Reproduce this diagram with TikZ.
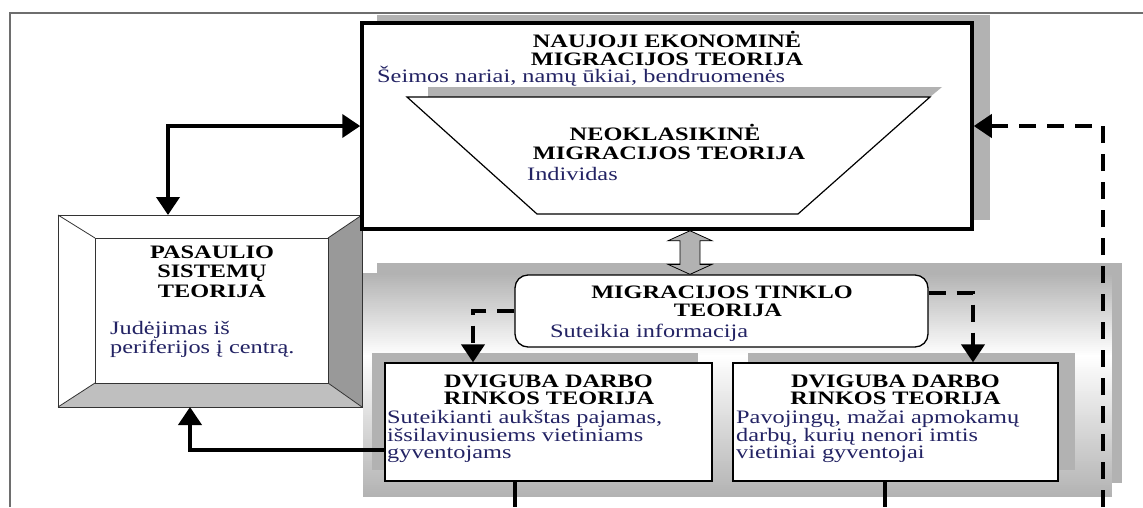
\documentclass[tikz,border=0pt]{standalone}
\usepackage{fontspec}
\setmainfont{Liberation Serif}[FakeStretch=1.28]
\usetikzlibrary{arrows.meta,calc}
\definecolor{navy}{RGB}{35,35,100}
\definecolor{hatch}{RGB}{178,178,178}
\definecolor{framegray}{RGB}{110,110,110}
\begin{document}
\begin{tikzpicture}[x=1pt,y=-1pt,
  ttl/.style={font=\bfseries\fontsize{19}{19}\selectfont, text=black, inner sep=0pt, anchor=base},
  dsc/.style={font=\fontsize{19}{19}\selectfont, text=navy, inner sep=0pt, anchor=base west},
  shadowband/.style={fill=hatch, draw=none},
  boxthin/.style={draw=black, line width=1.3pt, fill=white, inner sep=0pt},
  bevel/.style={draw=black!80, line width=0.8pt},
  conn/.style={line width=4pt, -{Triangle[length=18pt,width=23pt]}},
  dconn/.style={conn, dash pattern=on 17pt off 11pt},
  blockarrow/.style={fill=black!30, draw=black, line width=0.8pt}
]
\useasboundingbox (0,0) rectangle (1143,507);
% outer frame
\draw[framegray, line width=1.5pt] (10,507) -- (10,13) -- (1143,13);

% ---------- PASAULIO SISTEMU TEORIJA (bevelled box)
\node[minimum width=304pt, minimum height=192pt, inner sep=0pt, outer sep=0pt] (pas) at (210,311) {};
\node[minimum width=233pt, minimum height=145pt, inner sep=0pt, outer sep=0pt, fill=white] (pasin) at (211.5,310.5) {};
\fill[white] (pas.north west) -- (pas.north east) -- (pasin.north east) -- (pasin.north west) -- cycle;
\fill[white] (pas.north west) -- (pasin.north west) -- (pasin.south west) -- (pas.south west) -- cycle;
\fill[black!40] (pas.north east) -- (pas.south east) -- (pasin.south east) -- (pasin.north east) -- cycle;
\fill[black!25] (pas.south west) -- (pas.south east) -- (pasin.south east) -- (pasin.south west) -- cycle;
\draw[bevel] (pas.north west) rectangle (pas.south east);
\draw[bevel] (pasin.north west) rectangle (pasin.south east);
\draw[bevel] (pas.north west) -- (pasin.north west);
\draw[bevel] (pas.north east) -- (pasin.north east);
\draw[bevel] (pas.south west) -- (pasin.south west);
\draw[bevel] (pas.south east) -- (pasin.south east);
\node[ttl] (p1) at (212,258) {PASAULIO};
\node[ttl] (p2) at (212,277.5) {SISTEMŲ};
\node[ttl] (p3) at (212,297) {TEORIJA};
\node[dsc] (p4) at (110,334) {Judėjimas iš};
\node[dsc] (p5) at (110,353) {periferijos į centrą.};

% ---------- NAUJOJI EKONOMINE MIGRACIJOS TEORIJA
\fill[shadowband] (377,15) rectangle (990,220);
\node[draw=black, line width=3.5pt, fill=white, minimum width=610pt, minimum height=206pt, inner sep=0pt] (neo) at (667,126) {};
\node[ttl] (n1) at (667,47) {NAUJOJI EKONOMINĖ};
\node[ttl] (n2) at (667,65) {MIGRACIJOS TEORIJA};
\node[dsc] (n3) at (377,82) {Šeimos nariai, namų ūkiai, bendruomenės};
% inner trapezoid (NEOKLASIKINE)
\fill[shadowband] (428,87) -- (942,87) -- (930,97) -- (428,97) -- cycle;
\draw[black, line width=1.2pt, fill=white] (407,97) -- (930,97) -- (798,214) -- (537,214) -- cycle;
\node[ttl] (k1) at (665,140) {NEOKLASIKINĖ};
\node[ttl] (k2) at (669,159) {MIGRACIJOS TEORIJA};
\node[dsc] (k3) at (527,180) {Individas};

% ---------- lower grey panel (vertical gradient grey-white-grey)
\fill[shadowband] (377,263) rectangle (1122,483);
\begin{scope}
  \clip (363,273) rectangle (1112,496);
  \foreach \i in {0,...,111}{
    \pgfmathsetmacro\yy{273+2*\i}
    \pgfmathsetmacro\vv{\yy<355 ? 30*(355-\yy)/82 : 30*(\yy-355)/141}
    \fill[black!\vv] (363,\yy) rectangle (1112,\yy+2.5);
  }
\end{scope}

% MIGRACIJOS TINKLO TEORIJA
\node[boxthin, rounded corners=13pt, minimum width=413pt, minimum height=72pt] (mig) at (721.5,311) {};
\node[ttl] (m1) at (722,298) {MIGRACIJOS TINKLO};
\node[ttl] (m2) at (728,316) {TEORIJA};
\node[dsc] (m3) at (550,337) {Suteikia informacija};

% DVIGUBA DARBO RINKOS TEORIJA (left)
\fill[shadowband] (372,353) rectangle (698,470);
\node[boxthin, minimum width=327pt, minimum height=118pt] (dv1) at (548.5,422) {};
\node[ttl] (a1) at (548.5,387) {DVIGUBA DARBO};
\node[ttl] (a2) at (549,404) {RINKOS TEORIJA};
\node[dsc] (a3) at (387,423) {Suteikianti aukštas pajamas,};
\node[dsc] (a4) at (387,441) {išsilavinusiems vietiniams};
\node[dsc] (a5) at (387,458) {gyventojams};

% DVIGUBA DARBO RINKOS TEORIJA (right)
\fill[shadowband] (748,353) rectangle (1075,470);
\node[boxthin, minimum width=325pt, minimum height=118pt] (dv2) at (895.5,422) {};
\node[ttl] (b1) at (895.5,387) {DVIGUBA DARBO};
\node[ttl] (b2) at (895.5,404) {RINKOS TEORIJA};
\node[dsc] (b3) at (736,423) {Pavojingų, mažai apmokamų};
\node[dsc] (b4) at (736,441) {darbų, kurių nenori imtis};
\node[dsc] (b5) at (736,458) {vietiniai gyventojai};

% ---------- grey double block arrow between neo and mig
\coordinate (ba) at (690,0);
\path (neo.south -| ba) coordinate (bt) (mig.north -| ba) coordinate (bb);
\draw[blockarrow] (bt) -- ++(22,10) -- ++(-12,0) -- ($(bb)+(10,-10)$) -- ++(12,0) -- (bb)
  -- ++(-22,-10) -- ++(12,0) -- ($(bt)+(-10,10)$) -- ++(-12,0) -- cycle;

% ---------- connectors
\coordinate (c1) at (168,0);
\draw[line width=4pt, {Triangle[length=18pt,width=23pt]}-{Triangle[length=18pt,width=23pt]}]
  (pas.north -| c1) |- (neo.west);
\coordinate (c2) at (190,450);
\draw[conn] (dv1.west |- c2) -| (pas.south -| c2);
\coordinate (c3) at (473,0);
\draw[dconn] (mig.west) -| (dv1.north -| c3);
\coordinate (c4) at (973,293);
\draw[dconn] (mig.east |- c4) -| (dv2.north -| c4);
\coordinate (e3) at (1103,507);
\draw[dconn] (e3) |- (neo.east);
\coordinate (e1) at (515,507);
\draw[line width=4pt] (dv1.south -| e1) -- (e1);
\coordinate (e2) at (885,507);
\draw[line width=4pt] (dv2.south -| e2) -- (e2);
\end{tikzpicture}
\end{document}
